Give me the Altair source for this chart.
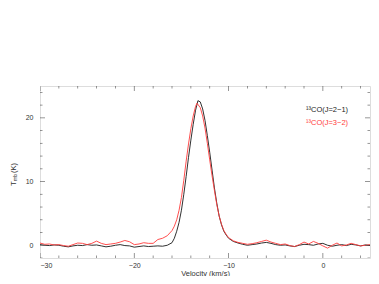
import altair as alt
import pandas as pd

# ---- data ----
vel_21 = [-30, -29.5, -29, -28.5, -28, -27.5, -27, -26.5, -26, -25.5, -25, -24.5, -24, -23.5, -23,
          -22.5, -22, -21.5, -21, -20.5, -20, -19.5, -19, -18.5, -18, -17.5, -17, -16.5, -16,
          -15.75, -15.5, -15.25, -15, -14.75, -14.5, -14.25, -14, -13.75, -13.5, -13.25, -13.0,
          -12.75, -12.5, -12.25, -12, -11.75, -11.5, -11.25, -11, -10.75, -10.5, -10.25, -10,
          -9.5, -9, -8.5, -8, -7.5, -7, -6.5, -6, -5.5, -5, -4.5, -4, -3.5, -3, -2.5, -2, -1.5,
          -1, -0.5, 0, 0.5, 1, 1.5, 2, 2.5, 3, 3.5, 4, 4.5, 5]
tmb_21 = [0.1, 0.0, -0.05, 0.05, 0.0, -0.15, -0.25, -0.1, 0.0, -0.05, 0.1, 0.0, 0.05, -0.1, -0.25,
          -0.15, 0.0, 0.1, -0.05, -0.1, -0.3, -0.2, -0.1, -0.2, -0.15, -0.1, -0.15, 0.0, 0.4,
          1.1, 2.2, 3.6, 5.5, 8.0, 10.8, 13.8, 16.5, 19.0, 21.2, 22.7, 22.5,
          21.4, 19.6, 17.2, 14.6, 11.8, 9.0, 6.6, 4.6, 3.2, 2.2, 1.6, 1.1,
          0.6, 0.35, 0.15, 0.0, 0.1, 0.2, 0.35, 0.45, 0.3, 0.1, 0.0, 0.05, -0.1, -0.2, 0.0, 0.15, 0.1,
          0.0, 0.2, 0.3, 0.0, -0.15, 0.0, 0.1, -0.05, 0.15, 0.05, -0.1, 0.05, -0.05]

vel_32 = [-30, -29.5, -29, -28.5, -28, -27.5, -27, -26.5, -26, -25.5, -25, -24.5, -24, -23.5, -23,
          -22.5, -22, -21.5, -21, -20.5, -20, -19.5, -19, -18.5, -18, -17.5, -17, -16.5, -16,
          -15.75, -15.5, -15.25, -15, -14.75, -14.5, -14.25, -14, -13.75, -13.5, -13.35, -13.0,
          -12.75, -12.5, -12.25, -12, -11.75, -11.5, -11.25, -11, -10.75, -10.5, -10.25, -10,
          -9.5, -9, -8.5, -8, -7.5, -7, -6.5, -6, -5.5, -5, -4.5, -4, -3.5, -3, -2.5, -2, -1.5,
          -1, -0.5, 0, 0.5, 1, 1.5, 2, 2.5, 3, 3.5, 4, 4.5, 5]
tmb_32 = [0.35, 0.15, 0.2, 0.05, 0.1, -0.05, -0.15, 0.1, 0.35, 0.3, 0.1, 0.3, 0.65, 0.3, 0.1,
          0.2, 0.3, 0.5, 0.75, 0.55, 0.1, 0.2, 0.4, 0.3, 0.3, 0.9, 1.1, 1.5, 2.3,
          3.0, 4.0, 5.5, 7.5, 10.2, 13.2, 15.9, 18.3, 20.3, 21.8, 22.3, 21.6,
          20.3, 18.4, 16.0, 13.4, 10.9, 8.6, 6.4, 4.6, 3.3, 2.3, 1.7, 1.2,
          0.7, 0.45, 0.3, 0.15, 0.25, 0.4, 0.6, 0.8, 0.5, 0.3, 0.1, 0.2, -0.05, -0.2, 0.1, 0.5, 0.2,
          0.6, 0.3, -0.1, -0.45, 0.0, 0.35, -0.1, 0.05, 0.3, 0.1, -0.1, 0.0, 0.1]

series_names = ["2-1", "3-2"]
series_labels = ["¹³CO(J=2−1)", "¹³CO(J=3−2)"]
series_colors = ["#1a1a1a", "#ff3b3b"]

x_major = [-30, -20, -10, 0]
x_minor = [-28, -26, -24, -22, -18, -16, -14, -12, -8, -6, -4, -2, 2, 4]
y_major = [0, 10, 20]
y_minor = [-2, 2, 4, 6, 8, 12, 14, 16, 18, 22, 24]

x_title = "Velocity (km/s)"

# ---- chart ----
W, H = 330, 172
FONT = "Liberation Sans"
TXT = "#333333"
xs = alt.Scale(domain=[-30, 5], nice=False, zero=False)
ys = alt.Scale(domain=[-2, 25], nice=False, zero=False)

x_axis = alt.Axis(values=x_major, ticks=False, domain=False, grid=False, tickSize=0,
                  labelPadding=3, titlePadding=1, labelFontSize=7, titleFontSize=7.5,
                  titleFontWeight="normal", labelColor=TXT, titleColor=TXT,
                  labelFont=FONT, titleFont=FONT)
y_axis = alt.Axis(values=y_major, ticks=False, domain=False, grid=False, tickSize=0,
                  labelPadding=7, labelFontSize=7, labelColor=TXT, labelFont=FONT)


def X(field):
    return alt.X(field, scale=xs, axis=x_axis, title=x_title)


def Y(field):
    return alt.Y(field, scale=ys, axis=y_axis, title=None)


df = pd.concat([
    pd.DataFrame({"v": vel_21, "t": tmb_21, "s": series_names[0]}),
    pd.DataFrame({"v": vel_32, "t": tmb_32, "s": series_names[1]}),
])

lines = alt.Chart(df).mark_line(strokeWidth=0.9, clip=True).encode(
    x=X("v:Q"),
    y=Y("t:Q"),
    color=alt.Color("s:N", scale=alt.Scale(domain=series_names, range=series_colors), legend=None),
    detail="s:N",
)

tick_layers = []
for vals, ln in [(x_major, 5), (x_minor, 2.5)]:
    for pos in [H, 0]:
        tick_layers.append(
            alt.Chart(pd.DataFrame({"v": vals})).mark_tick(
                orient="vertical", clip=True, color="#444", thickness=0.8, size=2 * ln
            ).encode(x=X("v:Q"), y=alt.value(pos))
        )
for vals, ln in [(y_major, 5), (y_minor, 2.5)]:
    for pos in [0, W]:
        tick_layers.append(
            alt.Chart(pd.DataFrame({"t": vals})).mark_tick(
                orient="horizontal", clip=True, color="#444", thickness=0.8, size=2 * ln
            ).encode(y=Y("t:Q"), x=alt.value(pos))
        )

legend_layers = []
for i, (lab, col) in enumerate(zip(series_labels, series_colors)):
    legend_layers.append(
        alt.Chart(pd.DataFrame({"lab": [lab]})).mark_text(
            align="left", baseline="middle", font=FONT, fontSize=7.5, color=col
        ).encode(text="lab:N", x=alt.value(266), y=alt.value(24 + 13 * i))
    )

ytitle_parts = [("T", 7.5, -26.5, 100), ("mb", 5, -25, 95), ("(K)", 7.5, -26.5, 87)]
ytitle_layers = []
for txt, fs, px, py in ytitle_parts:
    ytitle_layers.append(
        alt.Chart(pd.DataFrame({"lab": [txt]})).mark_text(
            align="left", baseline="middle", angle=270, font=FONT, fontSize=fs, color=TXT
        ).encode(text="lab:N", x=alt.value(px), y=alt.value(py))
    )

chart = alt.layer(lines, *tick_layers, *legend_layers, *ytitle_layers).properties(
    width=W, height=H,
    autosize=alt.AutoSizeParams(type="none"),
    padding={"left": 32, "top": 78, "right": 1, "bottom": 18},
).configure_view(stroke="#444", strokeWidth=0.9).configure(background="white")

chart.save("out.html", embed_options={"renderer": "svg", "actions": False})
